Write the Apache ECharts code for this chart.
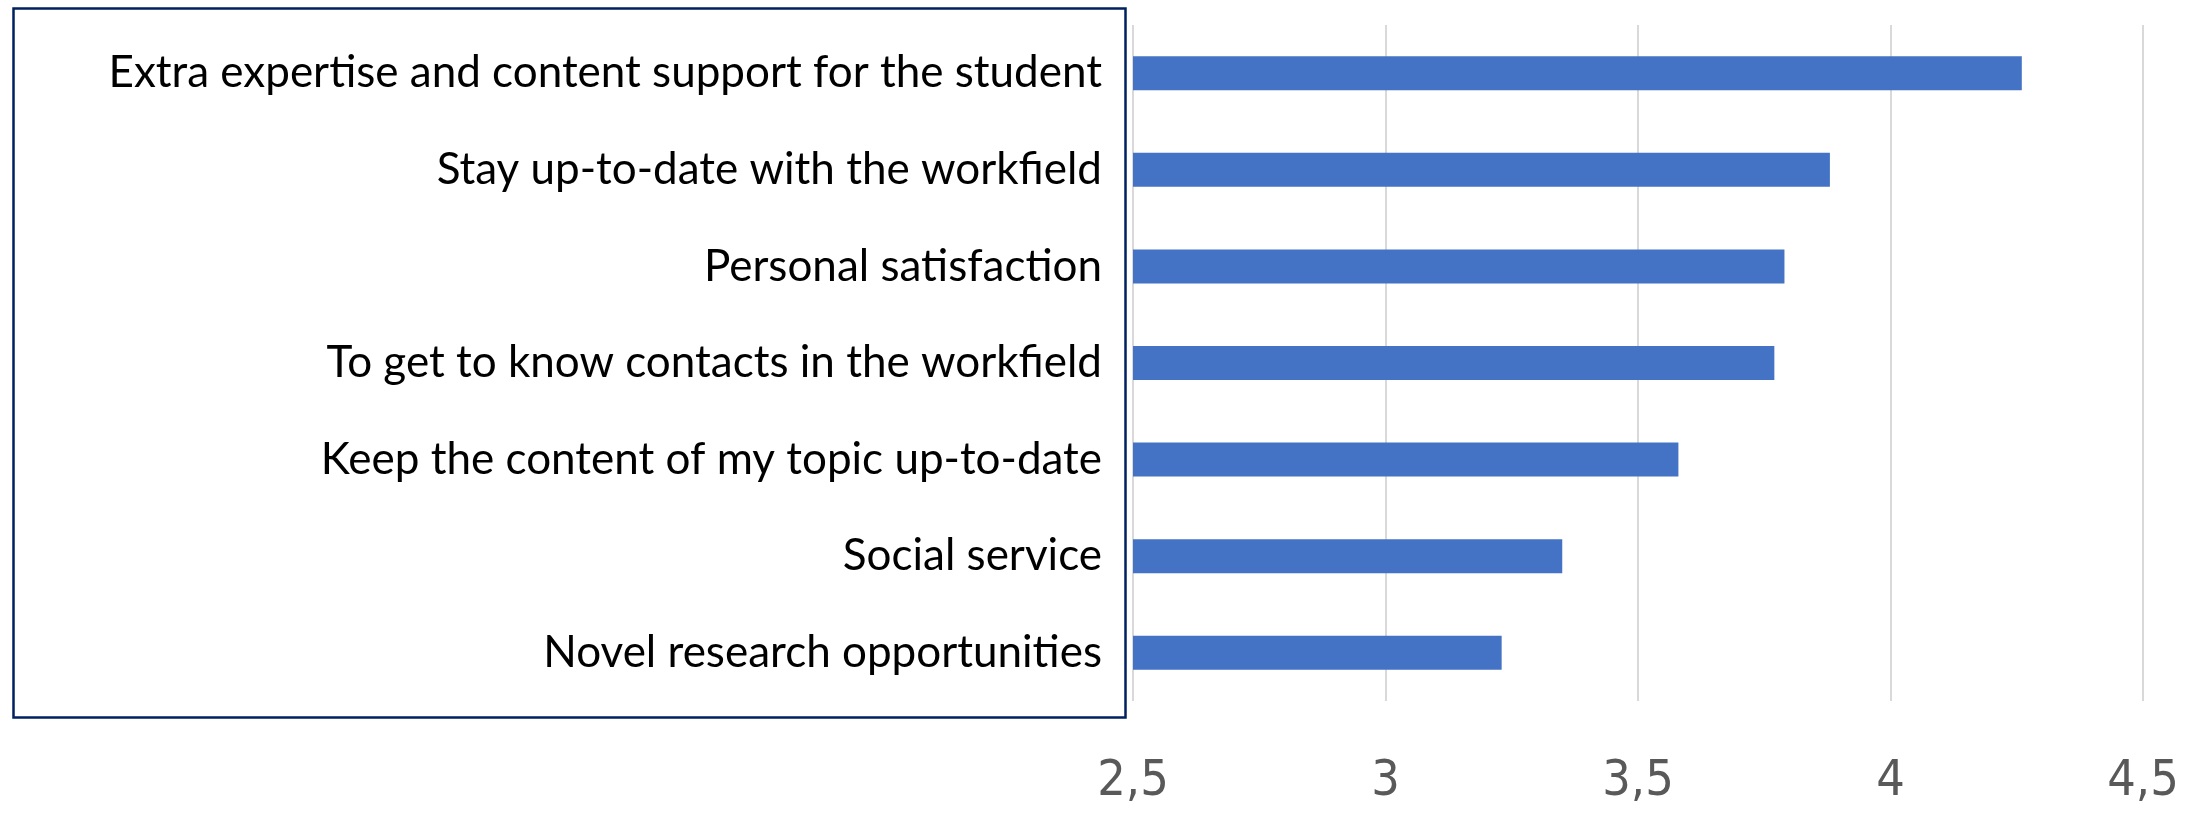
<!DOCTYPE html>
<html>
<head>
<meta charset="utf-8">
<script src="https://cdn.jsdelivr.net/npm/echarts@6/dist/echarts.min.js"></script>
<style>
  html, body { margin: 0; padding: 0; background: #ffffff; }
  #chart { width: 2188px; height: 816px; }
</style>
</head>
<body>
<div id="chart"></div>
<script>
// Motivations, ordered from top to bottom
const categories = [
  'Extra expertise and content support for the student',
  'Stay up-to-date with the workfield',
  'Personal satisfaction',
  'To get to know contacts in the workfield',
  'Keep the content of my topic up-to-date',
  'Social service',
  'Novel research opportunities'
];
// Mean score per motivation
const scores = [4.26, 3.88, 3.79, 3.77, 3.58, 3.35, 3.23];
// Value axis range
const axisMin = 2.5;
const axisMax = 4.5;
const axisStep = 0.5;

const chart = echarts.init(document.getElementById('chart'), null, { renderer: 'canvas' });

chart.setOption({
  backgroundColor: '#ffffff',
  animation: false,
  grid: { left: 1133, right: 45, top: 25, bottom: 115, containLabel: false },
  xAxis: {
    type: 'value',
    min: axisMin,
    max: axisMax,
    interval: axisStep,
    axisLine: { show: false },
    axisTick: { show: false },
    splitLine: { show: true, lineStyle: { color: '#d9d9d9', width: 2 } },
    axisLabel: {
      margin: 56,
      color: '#595959',
      fontSize: 50,
      fontFamily: '"DejaVu Sans Condensed", "Liberation Sans", sans-serif',
      formatter: v => String(v).replace('.', ',')
    }
  },
  yAxis: {
    type: 'category',
    data: categories,
    inverse: true,
    axisLine: { show: false },
    axisTick: { show: false },
    splitLine: { show: false },
    axisLabel: {
      margin: 31,
      color: '#000000',
      fontSize: 44,
      fontFamily: 'Lato, "Liberation Sans", sans-serif'
    }
  },
  series: [{
    type: 'bar',
    data: scores,
    barWidth: 34,
    itemStyle: { color: '#4472c4' }
  }],
  graphic: [{
    type: 'rect',
    left: 11,
    top: 6,
    shape: { width: 1112, height: 709 },
    style: { fill: 'none', stroke: '#002060', lineWidth: 2.5 },
    z: 100
  }]
});
</script>
</body>
</html>
